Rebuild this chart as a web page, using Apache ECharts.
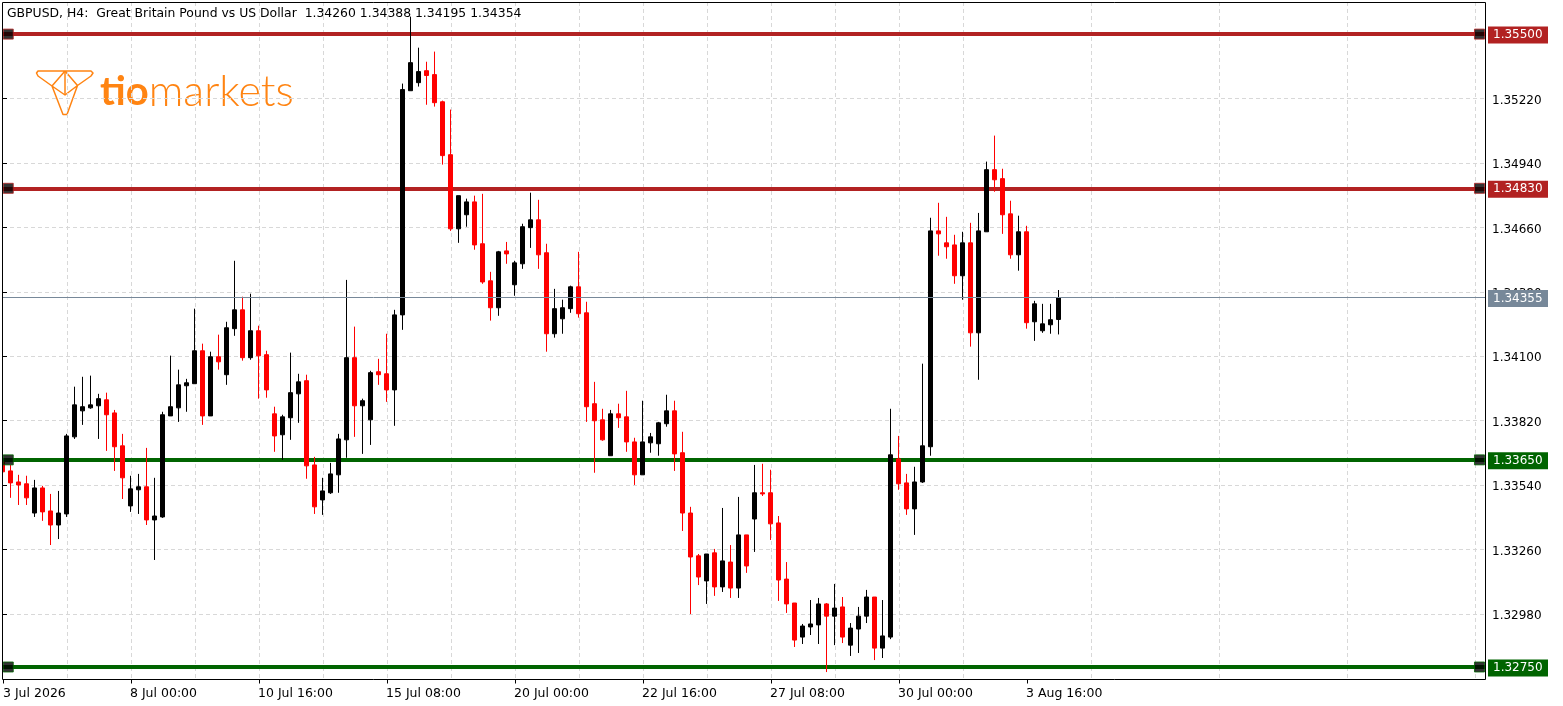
<!DOCTYPE html>
<html>
<head>
<meta charset="utf-8">
<title>GBPUSD H4</title>
<style>
	html, body { margin: 0; padding: 0; background: #fff; }
	#chart { width: 1563px; height: 706px; }
</style>
<script src="https://cdn.jsdelivr.net/npm/echarts@6/dist/echarts.min.js"></script>
</head>
<body>
<div id="chart"></div>
<script>
var opens = [
	1.33641,1.33602,1.33554,1.33546,1.33419,1.33528,1.33428,1.33367,1.33415,1.33750,
	1.33863,1.33876,1.33885,1.33911,1.33854,1.33711,1.33450,1.33520,1.33533,1.33389,
	1.33402,1.33841,1.33876,1.33972,1.33981,1.34124,1.33841,1.34098,1.34020,1.34220,
	1.34302,1.34094,1.34211,1.34107,1.33850,1.33759,1.33833,1.33937,1.33994,1.33628,
	1.33476,1.33507,1.33585,1.33737,1.34094,1.33885,1.33824,1.34033,1.34024,1.33954,
	1.34280,1.35254,1.35289,1.35341,1.35324,1.35206,1.34976,1.34654,1.34715,1.34771,
	1.34589,1.34428,1.34311,1.34558,1.34411,1.34502,1.34659,1.34693,1.34550,1.34198,
	1.34263,1.34307,1.34402,1.34289,1.33894,1.33824,1.33668,1.33850,1.33837,1.33728,
	1.33585,1.33724,1.33720,1.33807,1.33863,1.33681,1.33419,1.33233,1.33124,1.33246,
	1.33098,1.33206,1.33093,1.33324,1.33393,1.33507,1.33507,1.33376,1.33132,1.33028,
	1.32880,1.32924,1.32933,1.33024,1.32971,1.33011,1.32845,1.32915,1.32971,1.33054,
	1.32832,1.32880,1.33654,1.33550,1.33437,1.33554,1.33707,1.34645,1.34593,1.34584,
	1.34450,1.34593,1.34202,1.34641,1.34911,1.34872,1.34719,1.34541,1.34641,1.34250,
	1.34211,1.34237,1.34260
];
var highs = [
	1.33659,1.33628,1.33585,1.33581,1.33563,1.33537,1.33502,1.33515,1.33763,1.33968,
	1.34011,1.34016,1.33937,1.33942,1.33867,1.33763,1.33581,1.33589,1.33702,1.33572,
	1.33859,1.34103,1.34042,1.34002,1.34307,1.34155,1.34120,1.34194,1.34250,1.34515,
	1.34359,1.34372,1.34233,1.34124,1.33881,1.33846,1.34116,1.34024,1.34020,1.33663,
	1.33572,1.33637,1.33763,1.34432,1.34229,1.33916,1.34037,1.34089,1.34198,1.34302,
	1.35285,1.35576,1.35441,1.35380,1.35424,1.35211,1.35172,1.34798,1.34785,1.34798,
	1.34806,1.34467,1.34558,1.34597,1.34515,1.34676,1.34811,1.34780,1.34589,1.34393,
	1.34346,1.34407,1.34554,1.34337,1.33989,1.33872,1.33867,1.33894,1.33950,1.33746,
	1.33907,1.33767,1.33815,1.33933,1.33907,1.33772,1.33446,1.33241,1.33241,1.33263,
	1.33441,1.33280,1.33489,1.33324,1.33628,1.33633,1.33607,1.33406,1.33206,1.33028,
	1.32937,1.33041,1.33050,1.33028,1.33111,1.33054,1.32941,1.33011,1.33085,1.33054,
	1.33041,1.33872,1.33754,1.33589,1.33620,1.34068,1.34702,1.34767,1.34706,1.34628,
	1.34641,1.34680,1.34723,1.34946,1.35059,1.34915,1.34776,1.34711,1.34667,1.34341,
	1.34328,1.34328,1.34388
];
var lows = [
	1.33598,1.33485,1.33454,1.33454,1.33402,1.33385,1.33280,1.33306,1.33402,1.33741,
	1.33802,1.33872,1.33741,1.33689,1.33602,1.33480,1.33424,1.33415,1.33367,1.33215,
	1.33398,1.33841,1.33815,1.33859,1.33981,1.33802,1.33841,1.34042,1.33976,1.34189,
	1.34081,1.34085,1.33916,1.33920,1.33685,1.33650,1.33737,1.33811,1.33568,1.33415,
	1.33411,1.33502,1.33507,1.33659,1.33750,1.33676,1.33715,1.33976,1.33902,1.33798,
	1.34215,1.35254,1.35272,1.35193,1.35185,1.34933,1.34645,1.34593,1.34663,1.34563,
	1.34415,1.34255,1.34276,1.34502,1.34363,1.34480,1.34571,1.34480,1.34120,1.34181,
	1.34198,1.34289,1.34268,1.33815,1.33594,1.33733,1.33668,1.33789,1.33685,1.33541,
	1.33585,1.33681,1.33668,1.33794,1.33602,1.33341,1.32980,1.33106,1.33024,1.33059,
	1.33076,1.33050,1.33050,1.33159,1.33250,1.33493,1.33302,1.33037,1.32985,1.32837,
	1.32850,1.32889,1.32850,1.32728,1.32845,1.32854,1.32798,1.32811,1.32941,1.32780,
	1.32789,1.32871,1.33520,1.33411,1.33324,1.33550,1.33668,1.34537,1.34524,1.34415,
	1.34346,1.34142,1.33998,1.34641,1.34815,1.34632,1.34524,1.34472,1.34220,1.34167,
	1.34202,1.34198,1.34195
];
var closes = [
	1.33598,1.33550,1.33541,1.33485,1.33528,1.33424,1.33367,1.33419,1.33754,1.33889,
	1.33881,1.33889,1.33916,1.33846,1.33707,1.33572,1.33524,1.33533,1.33389,1.33406,
	1.33846,1.33881,1.33976,1.33985,1.34124,1.33841,1.34098,1.34076,1.34224,1.34302,
	1.34094,1.34211,1.34102,1.33954,1.33754,1.33837,1.33942,1.33989,1.33624,1.33446,
	1.33515,1.33589,1.33741,1.34094,1.33885,1.33907,1.34029,1.34020,1.33954,1.34280,
	1.35259,1.35376,1.35337,1.35320,1.35202,1.34972,1.34654,1.34798,1.34771,1.34584,
	1.34423,1.34311,1.34554,1.34545,1.34506,1.34663,1.34693,1.34541,1.34198,1.34307,
	1.34311,1.34402,1.34285,1.33881,1.33820,1.33737,1.33850,1.33833,1.33728,1.33585,
	1.33728,1.33750,1.33811,1.33863,1.33676,1.33419,1.33228,1.33141,1.33241,1.33098,
	1.33211,1.33093,1.33324,1.33189,1.33507,1.33502,1.33372,1.33128,1.33024,1.32867,
	1.32928,1.32937,1.33024,1.32971,1.33006,1.32880,1.32919,1.32971,1.33054,1.32832,
	1.32885,1.33672,1.33546,1.33437,1.33554,1.33711,1.34645,1.34632,1.34576,1.34450,
	1.34593,1.34202,1.34645,1.34911,1.34867,1.34715,1.34541,1.34641,1.34246,1.34328,
	1.34241,1.34259,1.34354
];
var timeLabels = ['3 Jul 2026', '8 Jul 00:00', '10 Jul 16:00', '15 Jul 08:00', '20 Jul 00:00', '22 Jul 16:00', '27 Jul 08:00', '30 Jul 00:00', '3 Aug 16:00'];
var redLevels = [1.35500, 1.34830];
var greenLevels = [1.33650, 1.32750];
var bidLevel = 1.34355;
var titleText = 'GBPUSD, H4:  Great Britain Pound vs US Dollar  1.34260 1.34388 1.34195 1.34354';

var BARS_PER_LABEL = 16;
var HALF_PX = 0.0625; //half a pixel in bars, keeps 5px bodies crisp on the rounded grid
var RED = '#b22222';
var GREEN = '#006400';
var SLATE = '#778899';
var ORANGE = '#ff8412';
var FONT = '"DejaVu Sans", sans-serif';

var candleData = [];
for(var i = 0; i < opens.length; i++) {
	candleData.push([i - HALF_PX, opens[i], closes[i], lows[i], highs[i]]);
}
var tickBars = timeLabels.map(function(t, i) {
	return i * BARS_PER_LABEL;
});
var labelBars = tickBars.map(function(b) {
	return b ? b - 2 * HALF_PX : b;
});

//price boxes right of the axis
function levelLine(value, color, width) {
	return {
		yAxis: value,
		lineStyle: {
			color: color,
			width: width,
			type: 'solid'
		},
		label: {
			show: true,
			position: 'end',
			distance: 3,
			offset: [0, 1],
			formatter: value.toFixed(5),
			color: '#fff',
			fontFamily: FONT,
			fontSize: 12,
			backgroundColor: color,
			width: 51,
			height: 13,
			lineHeight: 13,
			padding: [2, 4, 2, 5],
			align: 'left'
		}
	};
}

//black squares at both ends of a level
function levelHandles(values, color) {
	var out = [];
	values.forEach(function(v) {
		[0.66, 184.56].forEach(function(x) {
			out.push({
				value: [x, v],
				itemStyle: {
					color: '#000',
					borderColor: color,
					borderWidth: 1
				}
			});
		});
	});
	return out;
}

var myChart = echarts.init(document.getElementById('chart'), null, { renderer: 'canvas' });
var option = {
	animation: false,
	backgroundColor: '#fff',
	title: {
		text: titleText,
		left: 7,
		top: 8,
		padding: 0,
		textStyle: {
			color: '#000',
			fontFamily: FONT,
			fontSize: 12.4,
			fontWeight: 'normal'
		}
	},
	grid: {
		show: false,
		left: 3,
		top: 2,
		right: 78,
		bottom: 27.5,
		containLabel: false
	},
	xAxis: {
		type: 'value',
		min: 0,
		max: 185.25,
		interval: BARS_PER_LABEL,
		offset: 1,
		axisLine: { show: false },
		axisTick: {
			show: true,
			length: 4,
			lineStyle: { color: '#000' },
			customValues: tickBars
		},
		axisLabel: {
			show: true,
			customValues: labelBars,
			align: 'left',
			margin: 8,
			color: '#000',
			fontFamily: FONT,
			fontSize: 12.5,
			formatter: function(v) {
				return timeLabels[Math.round(v / BARS_PER_LABEL)] || '';
			}
		},
		splitLine: {
			show: true,
			showMinLine: false,
			showMaxLine: false,
			lineStyle: { color: '#d8d8d8', type: [4, 3], width: 1 }
		},
		minorTick: { show: false, splitNumber: 2 },
		minorSplitLine: {
			show: true,
			lineStyle: { color: '#d8d8d8', type: [4, 3], width: 1 }
		}
	},
	yAxis: {
		type: 'value',
		position: 'right',
		min: 1.32700,
		max: 1.356395,
		interval: 0.0028,
		axisLine: { show: false },
		axisTick: {
			show: true,
			length: 4,
			lineStyle: { color: '#000' }
		},
		axisLabel: {
			show: true,
			showMinLabel: false,
			showMaxLabel: false,
			margin: 7,
			color: '#000',
			fontFamily: FONT,
			fontSize: 12,
			formatter: function(v) {
				return '{p|' + v.toFixed(5) + '}';
			},
			rich: {
				p: { padding: [4, 0, 0, 0], fontFamily: FONT, fontSize: 12, color: '#000' }
			}
		},
		splitLine: {
			show: true,
			showMinLine: false,
			showMaxLine: false,
			lineStyle: { color: '#d8d8d8', type: [4, 3], width: 1 }
		}
	},
	series: [{
		//bid line goes behind the candles
		name: 'bid',
		type: 'line',
		z: 1,
		data: [],
		silent: true,
		markLine: {
			silent: true,
			symbol: 'none',
			precision: 5,
			data: [levelLine(bidLevel, SLATE, 1)]
		}
	}, {
		name: 'GBPUSD',
		type: 'candlestick',
		z: 2,
		silent: true,
		clip: true,
		barWidth: 4,
		itemStyle: {
			color: '#000',
			color0: '#f00',
			borderColor: '#000',
			borderColor0: '#f00',
			borderWidth: 1
		},
		data: candleData
	}, {
		name: 'levels',
		type: 'scatter',
		z: 3,
		silent: true,
		symbol: 'rect',
		symbolSize: 10,
		data: levelHandles(redLevels, RED).concat(levelHandles(greenLevels, GREEN)),
		markLine: {
			silent: true,
			symbol: 'none',
			precision: 5,
			z: 2,
			data: redLevels.map(function(v) {
				return levelLine(v, RED, 4);
			}).concat(greenLevels.map(function(v) {
				return levelLine(v, GREEN, 4);
			}))
		}
	}],
	graphic: [{
		//hides the half candle left of the frame
		type: 'rect',
		silent: true,
		z: 20,
		shape: { x: 0, y: 0, width: 2, height: 706 },
		style: { fill: '#fff' }
	}, {
		type: 'rect',
		silent: true,
		z: 21,
		shape: { x: 2.5, y: 2.5, width: 1483, height: 677 },
		style: { fill: 'none', stroke: '#000', lineWidth: 1 }
	}, {
		type: 'group',
		silent: true,
		children: [{
			type: 'polyline',
			shape: {
				points: [[52, 86], [38, 76], [36.5, 73], [38, 71], [91, 71], [93, 73], [91, 76], [77.5, 85.5], [65, 71], [52, 86], [65, 95], [77.5, 85.5], [67, 114.5], [63, 114.5], [52, 86]]
			},
			style: { fill: 'none', stroke: ORANGE, lineWidth: 1.5, lineJoin: 'round' }
		}, {
			type: 'line',
			shape: { x1: 65, y1: 71, x2: 65, y2: 95 },
			style: { stroke: ORANGE, lineWidth: 1.5 }
		}, {
			type: 'text',
			x: 100,
			y: 92,
			style: {
				text: '{a|tio}{b|markets}',
				verticalAlign: 'middle',
				rich: {
					a: { fontFamily: 'Lato, sans-serif', fontWeight: 'bold', fontSize: 40, fill: ORANGE },
					b: { fontFamily: 'Lato, sans-serif', fontWeight: 300, fontSize: 43, fill: ORANGE }
				}
			}
		}]
	}]
};
myChart.setOption(option);
</script>
</body>
</html>
